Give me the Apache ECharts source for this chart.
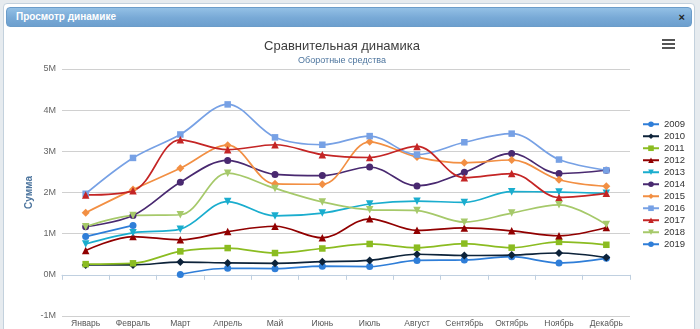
<!DOCTYPE html>
<html>
<head>
<meta charset="utf-8">
<script src="https://cdn.jsdelivr.net/npm/echarts@6/dist/echarts.min.js"></script>
<style>
  html, body { margin: 0; padding: 0; width: 700px; height: 329px; overflow: hidden; background: #e6ebef; font-family: "Liberation Sans", Arial, sans-serif; }
  .dialog { position: absolute; left: 3px; top: 3px; width: 690px; height: 340px; background: #fff; border: 1px solid #c3d1dd; border-radius: 4px; }
  .dialog-head { position: absolute; left: 2px; top: 3px; width: 684px; height: 18px; border-radius: 4px; border: 1px solid #6b9cc9;
    background: linear-gradient(#93c0e5, #78a9d6 55%, #6c9fce); color: #fff; font-weight: bold; font-size: 10px; line-height: 18px; }
  .dialog-head .t { position: absolute; left: 9px; top: 0; }
  .dialog-head .x { position: absolute; right: 6px; top: 0; color: #222; font-size: 11px; }
  #chart { position: absolute; left: 0; top: 0; width: 700px; height: 329px; }
</style>
</head>
<body>
<div class="dialog">
  <div class="dialog-head"><span class="t">Просмотр динамике</span><span class="x">×</span></div>
</div>
<div id="chart"></div>
<script>
// Monthly working capital by year, millions
const months = ['Январь','Февраль','Март','Апрель','Май','Июнь','Июль','Август','Сентябрь','Октябрь','Ноябрь','Декабрь'];
const years = ['2009','2010','2011','2012','2013','2014','2015','2016','2017','2018','2019'];

const y2009 = [null, null, 0.01, 0.16, 0.15, 0.21, 0.20, 0.35, 0.36, 0.44, 0.29, 0.40];
const y2010 = [0.24, 0.24, 0.31, 0.29, 0.28, 0.32, 0.35, 0.50, 0.47, 0.48, 0.53, 0.42];
const y2011 = [0.26, 0.28, 0.57, 0.65, 0.53, 0.64, 0.75, 0.66, 0.76, 0.66, 0.80, 0.73];
const y2012 = [0.59, 0.93, 0.85, 1.05, 1.18, 0.90, 1.36, 1.08, 1.14, 1.07, 0.95, 1.15];
const y2013 = [0.75, 1.02, 1.11, 1.78, 1.43, 1.50, 1.72, 1.79, 1.76, 2.02, 2.01, 1.98];
const y2014 = [1.17, 1.44, 2.25, 2.78, 2.44, 2.41, 2.62, 2.16, 2.49, 2.95, 2.46, 2.54];
const y2015 = [1.51, 2.07, 2.59, 3.15, 2.21, 2.20, 3.23, 2.86, 2.72, 2.79, 2.31, 2.15];
const y2016 = [1.97, 2.84, 3.41, 4.14, 3.34, 3.16, 3.37, 2.92, 3.22, 3.43, 2.80, 2.54];
const y2017 = [1.94, 2.04, 3.28, 3.04, 3.16, 2.92, 2.85, 3.12, 2.36, 2.46, 1.88, 1.98];
const y2018 = [1.17, 1.44, 1.46, 2.47, 2.10, 1.77, 1.58, 1.56, 1.28, 1.50, 1.70, 1.22];
const y2019 = [0.93, 1.20, null, null, null, null, null, null, null, null, null, null];

const yTicks = [-1, 0, 1, 2, 3, 4, 5];

const values = [y2009, y2010, y2011, y2012, y2013, y2014, y2015, y2016, y2017, y2018, y2019];
const colors = ['#2f7ed8','#0d233a','#8bbc21','#910000','#1aadce','#492970','#f28f43','#77a1e5','#c42525','#a6c96a','#2f7ed8'];
const symbols = ['circle','diamond','rect','triangle','triangle','circle','diamond','rect','triangle','triangle','circle'];
const rotations = [0, 0, 0, 0, 180, 0, 0, 0, 0, 180, 0];
const sizes = [7, 8, 6.5, 7.5, 7.5, 7, 8, 6.5, 7.5, 7.5, 7];

const FONT = '"Liberation Sans", Arial, sans-serif';

const series = years.map((name, i) => ({
  name: name,
  type: 'line',
  data: values[i],
  smooth: 0.35,
  symbol: symbols[i],
  symbolRotate: rotations[i],
  symbolSize: sizes[i],
  showSymbol: true,
  lineStyle: { width: 1.7, color: colors[i] },
  itemStyle: { color: colors[i] },
  emphasis: { disabled: true }
}));

const chart = echarts.init(document.getElementById('chart'), null, { renderer: 'canvas' });
chart.setOption({
  backgroundColor: 'transparent',
  animation: false,
  title: {
    text: 'Сравнительная динамика',
    subtext: 'Оборотные средства',
    left: 337,
    top: 35,
    textAlign: 'center',
    itemGap: 3,
    textStyle: { fontFamily: FONT, fontSize: 13, fontWeight: 'normal', color: '#3d3d3d' },
    subtextStyle: { fontFamily: FONT, fontSize: 9, color: '#4d759e' }
  },
  legend: {
    orient: 'vertical',
    left: 637,
    top: 114,
    itemWidth: 16,
    itemHeight: 7,
    itemGap: 1.5,
    textStyle: { fontFamily: FONT, fontSize: 9.5, color: '#333', lineHeight: 10.5 },
    data: years
  },
  grid: { left: 62, right: 70, top: 69, bottom: 13, containLabel: false },
  xAxis: {
    type: 'category',
    data: months,
    boundaryGap: true,
    axisLine: { lineStyle: { color: '#c0d0e0', width: 1 } },
    axisTick: { show: true, length: 5, lineStyle: { color: '#c0d0e0' } },
    axisLabel: { fontFamily: FONT, fontSize: 8.5, color: '#555', margin: 3, interval: 0 }
  },
  yAxis: {
    type: 'value',
    min: yTicks[0],
    max: yTicks[yTicks.length - 1],
    interval: 1,
    name: 'Сумма',
    nameLocation: 'middle',
    nameGap: 28,
    nameMoveOverlap: false,
    nameRotate: 90,
    nameTextStyle: { fontFamily: FONT, fontSize: 10, fontWeight: 'bold', color: '#4d759e' },
    axisLine: { show: false },
    axisTick: { show: false },
    axisLabel: { fontFamily: FONT, fontSize: 9, color: '#666', margin: 6, formatter: v => v + 'M' },
    splitLine: { lineStyle: { color: '#d0d0d0', width: 1 } }
  },
  graphic: [
    { type: 'rect', left: 662, top: 39, shape: { width: 13, height: 2 }, style: { fill: '#555' } },
    { type: 'rect', left: 662, top: 43, shape: { width: 13, height: 2 }, style: { fill: '#555' } },
    { type: 'rect', left: 662, top: 47, shape: { width: 13, height: 2 }, style: { fill: '#555' } }
  ],
  series: series
});
</script>
</body>
</html>
